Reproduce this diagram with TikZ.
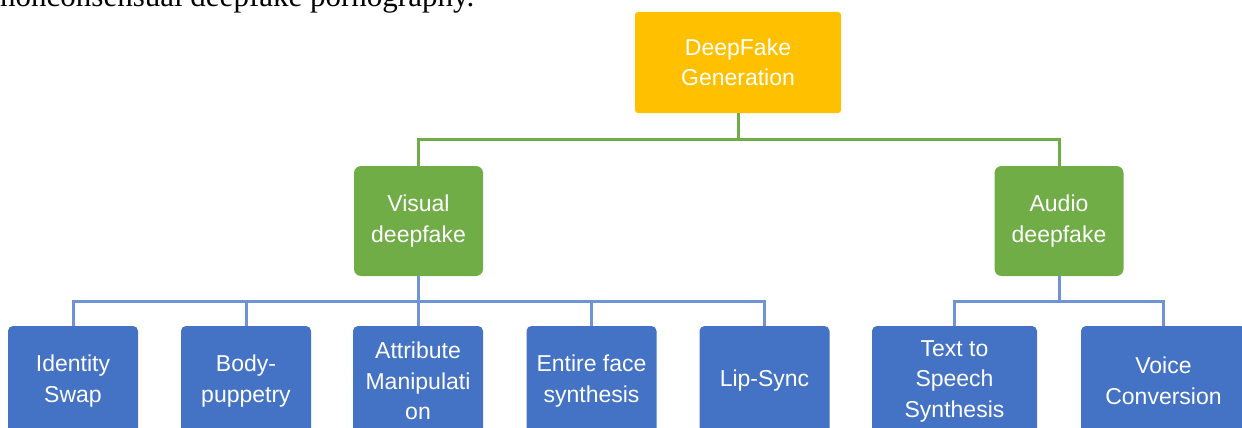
\documentclass[tikz,border=0pt]{standalone}
\usepackage{fontspec}
\setmainfont{Liberation Sans}
\newfontfamily\captionserif{Liberation Serif}
\definecolor{rootfill}{HTML}{FFC000}
\definecolor{midfill}{HTML}{70AD47}
\definecolor{leaffill}{HTML}{4472C4}
\definecolor{glinecol}{HTML}{70AD47}
\definecolor{blinecol}{HTML}{6F93D4}
\begin{document}
\begin{tikzpicture}[x=1pt,y=-1pt,
  box/.style={rectangle, inner sep=0pt, align=center, text=white,
    font=\fontsize{23}{30.5}\selectfont},
  rootbox/.style={box, fill=rootfill, minimum width=206pt, minimum height=101pt, rounded corners=3pt},
  midbox/.style={box, fill=midfill, minimum width=129pt, minimum height=110pt, rounded corners=7pt},
  leafbox/.style={box, fill=leaffill, minimum width=130pt, minimum height=110pt, rounded corners=5pt},
  wideleaf/.style={leafbox, minimum width=165pt},
  glink/.style={draw=glinecol, line width=3pt},
  blink/.style={draw=blinecol, line width=3pt}]
\path[use as bounding box] (0,0) rectangle (1242,428);
\clip (0,0) rectangle (1242,428);

% running text line above the chart
\node[anchor=base west, inner sep=0pt, font=\captionserif\fontsize{31}{36}\selectfont] (caption) at (0,7)
  {nonconsensual deepfake pornography.};

% tree nodes
\node[rootbox] (root) at (738,62.5) {DeepFake\\Generation};
\node[midbox] (vis) at (418.5,221) {Visual\\deepfake};
\node[midbox] (aud) at (1059,221) {Audio\\deepfake};

\node[leafbox] (idswap) at (73,381) {Identity\\Swap};
\node[leafbox] (body) at (246,381) {Body-\\puppetry};
\node[leafbox] (attr) at (418,381) {Attribute\\Manipulati\\on};
\node[leafbox] (face) at (591.5,381) {Entire face\\synthesis};
\node[leafbox] (lip) at (764.5,381) {Lip-Sync};
\node[wideleaf] (tts) at (954.5,381) {Text to\\Speech\\Synthesis};
\node[wideleaf] (voice) at (1163.5,381) {Voice\\Conversion};

% connectors
\foreach \child in {vis,aud}
  \draw[glink] (root.south) -- ++(0,26) -| (\child.north);
\foreach \child in {idswap,body,attr,face,lip}
  \draw[blink] (vis.south) -- ++(0,25) -| (\child.north);
\foreach \child in {tts,voice}
  \draw[blink] (aud.south) -- ++(0,25) -| (\child.north);
\end{tikzpicture}
\end{document}
